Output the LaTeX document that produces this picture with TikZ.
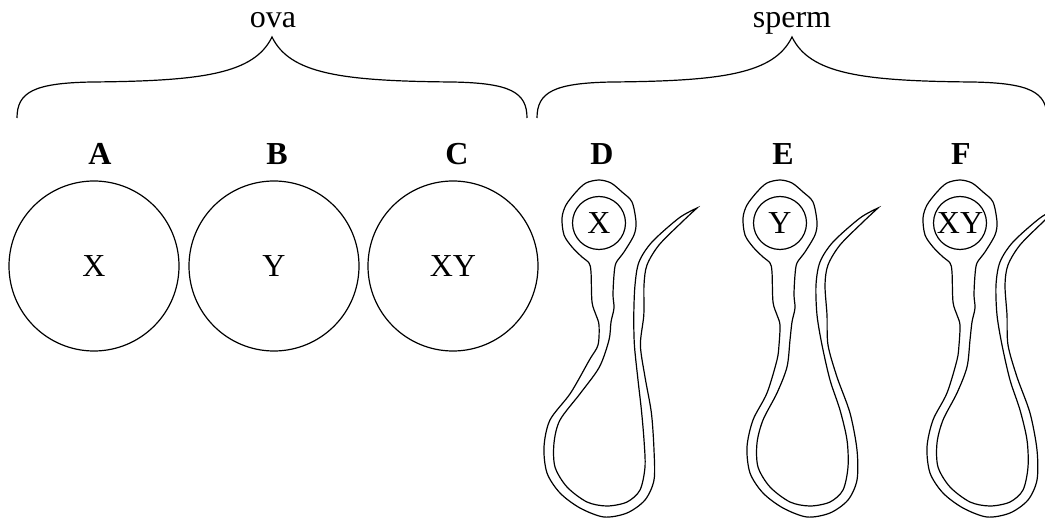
\documentclass[tikz,border=0pt]{standalone}
\usepackage{fontspec}
\setmainfont{Liberation Serif}
\usepackage{tikz}

\tikzset{
  thinline/.style = {line width=0.6pt},
  egg/.style = {circle, draw, line width=0.6pt, minimum size=85pt, inner sep=0pt, font=\fontsize{16}{19}\selectfont},
  nucleus/.style = {circle, draw, line width=0.6pt, minimum size=26.5pt, inner sep=0pt, font=\fontsize{16}{19}\selectfont},
  letter/.style = {anchor=base, inner sep=0pt, font=\fontsize{16}{19}\selectfont\bfseries},
  title/.style = {anchor=base, inner sep=0pt, font=\fontsize{16}{19}\selectfont},
  % #1 = sideways shift of the loop, #2 = text in the nucleus
  pics/sperm/.style 2 args = {code = {
    \draw[thinline] plot[smooth] coordinates {
      (98,-15) (80,-5) (53,19) (40,39) (36,62)
      ({37+0.1*(#1)},92) ({42+0.3*(#1)},122) ({50+0.5*(#1)},157) ({60+0.8*(#1)},187)
      ({67+(#1)},217) ({68+(#1)},244) ({63+(#1)},267) ({50+(#1)},279) ({30+(#1)},283)
      ({10+(#1)},279) ({-10+(#1)},264) ({-22+(#1)},244) ({-23+(#1)},220) ({-17+(#1)},197)
      ({-3+0.7*(#1)},170) ({7+0.3*(#1)},144)
      (10,117) (12,99) (15,85) (14,72) (15,52)
      (17,40) (25,29) (35,12) (37,-1) (33,-21) (23,-31) (12,-40) (0,-43)
      (-13,-40) (-23,-31) (-33,-18) (-37,-5) (-35,12) (-27,24) (-17,34) (-10,40)
      (-8,49) (-7,79) (-3,92) (0,102) (-1,122)
      ({-3+0.3*(#1)},137) ({-13+0.7*(#1)},170)
      ({-27+(#1)},197) ({-33+(#1)},224) ({-30+(#1)},250) ({-17+(#1)},270) ({3+(#1)},285)
      ({27+(#1)},294) ({50+(#1)},290) ({68+(#1)},277) ({77+(#1)},257) ({77+(#1)},227)
      ({70+0.8*(#1)},190) ({57+0.5*(#1)},154) ({48+0.3*(#1)},122) ({47+0.1*(#1)},92)
      (45,62) (48,42) (60,22) (83,-1) (98,-15)
    } -- cycle;
    \node[nucleus] (-nuc) at (0,0) {#2};
  }},
}

\begin{document}
\begin{tikzpicture}[x=0.5pt, y=-0.5pt]
\useasboundingbox (0,0) rectangle (1045,518);

% braces
\foreach \c in {272, 792}
  \draw[thinline] (\c-255,118) .. controls (\c-255,92) and (\c-238,83) .. (\c-180,82)
    .. controls (\c-70,81) and (\c-18,74) .. (\c,37)
    .. controls (\c+18,74) and (\c+70,81) .. (\c+180,82)
    .. controls (\c+238,83) and (\c+255,92) .. (\c+255,118);

\node[title] (ova) at (273,28) {ova};
\node[title] (sperm) at (792,28) {sperm};

\foreach \name/\x in {A/100, B/277, C/457, D/602, E/783, F/961}
  \node[letter] (lab\name) at (\x,165) {\name};

% ova
\node[egg] (eggA) at (94,266) {X};
\node[egg] (eggB) at (274,266) {Y};
\node[egg] (eggC) at (453,266) {XY};

% sperm
\pic (D) at (599,223) {sperm={-22}{X}};
\pic (E) at (780,223) {sperm={0}{Y}};
\pic (F) at (960,223) {sperm={0}{XY}};

\end{tikzpicture}
\end{document}
